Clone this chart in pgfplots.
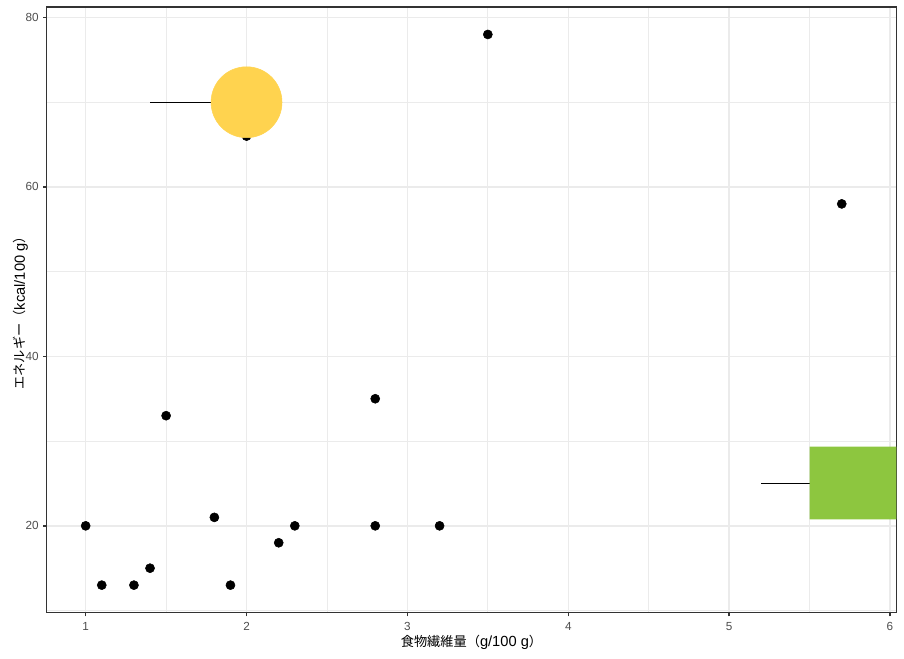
\documentclass[border=0pt]{standalone}
\usepackage{fontspec}
\setmainfont{Liberation Sans}
\newfontfamily\cjk[Scale=0.9]{Noto Sans CJK JP}
\usepackage{pgfplots}
\pgfplotsset{compat=1.18}
\definecolor{grid92}{HTML}{EBEBEB}
\definecolor{grey20}{HTML}{333333}
\definecolor{grey30}{HTML}{4D4D4D}
\definecolor{sun}{HTML}{FFD34F}
\definecolor{leaf}{HTML}{8DC63F}
\begin{document}
\begin{tikzpicture}
\useasboundingbox (0,0) rectangle (678pt,493.5pt);
\begin{axis}[
  at={(35pt,34pt)}, anchor=south west,
  scale only axis, width=637.2pt, height=454.3pt,
  xmin=0.7575, xmax=6.039, ymin=9.75, ymax=81.25,
  xtick={1,2,3,4,5,6}, ytick={20,40,60,80},
  minor xtick={1.5,2.5,3.5,4.5,5.5}, minor ytick={10,30,50,70},
  grid=both,
  major grid style={grid92, line width=1.07pt},
  minor grid style={grid92, line width=0.53pt},
  axis line style={grey20, line width=1.07pt},
  tick align=outside, major tick length=2.75pt, minor tick length=0pt,
  major tick style={grey20, line width=1.07pt},
  xtick pos=bottom, ytick pos=left,
  ticklabel style={font=\fontsize{8.8}{10}\selectfont, text=grey30, inner sep=0pt},
  xticklabel style={yshift=-4.5pt},
  yticklabel style={xshift=-3pt},
  /pgf/number format/assume math mode=true,
  xlabel={{\cjk 食物繊維量（}g/100 g{\cjk ）}},
  ylabel={{\cjk エネルギー（}kcal/100 g{\cjk ）}},
  xlabel style={at={(axis description cs:0.5,-0.0566)}, anchor=base, font=\fontsize{11}{13}\selectfont, inner sep=0pt},
  ylabel style={at={(axis description cs:-0.0256,0.5)}, rotate=0, anchor=base, font=\fontsize{11}{13}\selectfont, inner sep=0pt},
]
\addplot[only marks, mark=*, mark size=3.4pt, black] coordinates {
  (1,20) (1.1,13) (1.3,13) (1.4,15) (1.5,33) (1.8,21) (1.9,13) (2,66)
  (2.2,18) (2.3,20) (2.8,35) (2.8,20) (3.2,20) (3.5,78) (5.7,58)
};
\addplot[black, line width=0.75pt] coordinates {(1.4,70) (2,70)};
\addplot[only marks, mark=*, mark size=26.6pt, color=sun, mark options={draw=sun, fill=sun}] coordinates {(2,70)};
\addplot[black, line width=0.75pt] coordinates {(5.2,25) (5.5,25)};
\addplot[fill=leaf, draw=none] coordinates {(5.5,20.75) (6.3,20.75) (6.3,29.35) (5.5,29.35) (5.5,20.75)};
\end{axis}
\end{tikzpicture}
\end{document}
